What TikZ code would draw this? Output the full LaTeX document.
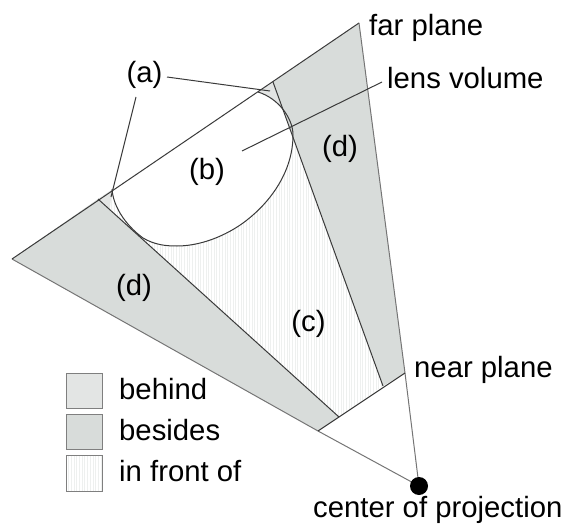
\documentclass[tikz,border=0pt]{standalone}
\usepackage{fontspec}
\setmainfont{Liberation Sans}
\definecolor{behindc}{HTML}{E3E5E4}
\definecolor{besidesc}{HTML}{D8DCDA}
\definecolor{linec}{HTML}{3A3A3A}
\definecolor{hatchc}{HTML}{EEF0EF}
\tikzset{
  lab/.style={inner sep=0pt,font=\fontsize{29.3}{31}\selectfont,text=black,anchor=base},
  labl/.style={lab,anchor=base west},
  edge/.style={draw=linec,line width=1pt},
  rim/.style={draw=linec!70,line width=1pt},
  swatch/.style={draw=linec!65,line width=1.4pt,minimum width=36pt,minimum height=35pt,inner sep=0pt,anchor=north west},
}
\newcommand{\lensfwd}{(112,189) .. controls (113,205) and (124,224) .. (143,238) .. controls (155,245) and (166,246) .. (177,246) .. controls (205,246) and (232,232) .. (247,220) .. controls (270,202) and (293,172) .. (293,135) .. controls (293,118) and (278,98) .. (258,92)}
\begin{document}
\begin{tikzpicture}[x=1pt,y=-1pt]
\useasboundingbox (0,0) rectangle (565,524);
\coordinate (apex) at (419,486);
\coordinate (farR) at (359,23);
\coordinate (farL) at (12,259);
\coordinate (nearR) at (405,373);
\coordinate (nearL) at (318,431);
\coordinate (innerLN) at (339,417);
\coordinate (innerLF) at (98,199);
\coordinate (innerRN) at (383,386);
\coordinate (innerRF) at (273,82);
\coordinate (lensL) at (112,189);
\coordinate (lensR) at (258,92);
% side regions
\fill[besidesc] (farL) -- (innerLF) -- (innerLN) -- (nearL) -- cycle;
\fill[besidesc] (innerRF) -- (farR) -- (nearR) -- (innerRN) -- cycle;
% front region with fine hatching
\begin{scope}
\clip (innerLF) -- (innerRF) -- (innerRN) -- (innerLN) -- cycle;
\foreach \hx in {90,92.7,...,390} \draw[hatchc,line width=.9pt] (\hx,60) -- (\hx,430);
\fill[behindc] (innerLF) -- (lensL) -- (100,300) -- cycle;
\fill[behindc] (innerRF) -- (lensR) -- (300,140) -- cycle;
\fill[white] \lensfwd -- cycle;
\end{scope}
% lens outline
\draw[edge] \lensfwd;
% frustum edges
\draw[rim] (apex) -- (nearL) -- (farL);
\draw[edge] (farL) -- (farR);
\draw[rim] (farR) -- (nearR) -- (apex);
\draw[edge] (nearL) -- (nearR);
\draw[edge] (innerLF) -- (innerLN);
\draw[edge] (innerRF) -- (innerRN);
\node[circle,fill=black,minimum size=18pt,inner sep=0pt] (cop) at (apex) {};
% labels
\node[lab] (a) at (144.5,83) {(a)};
\node[lab] (b) at (207,179) {(b)};
\node[lab] (c) at (308.5,331) {(c)};
\node[lab] (d1) at (340,157) {(d)};
\node[lab] (d2) at (134,295) {(d)};
\node[labl] (far) at (369,36) {far plane};
\node[labl] (lens) at (387,88.5) {lens volume};
\node[labl] (near) at (414,377) {near plane};
\node[labl] (center) at (313,517.3) {center of projection};
% leaders
\coordinate (a1) at (167,77);
\coordinate (a1e) at (270,91);
\coordinate (a2) at (136,97);
\coordinate (a2e) at (111,197);
\coordinate (lv1) at (382,82);
\coordinate (lv2) at (242,151);
\draw[edge] (a1) -- (a1e);
\draw[edge] (a2) -- (a2e);
\draw[edge] (lv1) -- (lv2);
% legend
\begin{scope}
\clip (66,455) rectangle (102,491);
\foreach \hx in {66,68.7,...,102} \draw[hatchc,line width=.9pt] (\hx,455) -- (\hx,491);
\end{scope}
\node[swatch,fill=behindc] (s1) at (66,373) {};
\node[swatch,fill=besidesc] (s2) at (66,414) {};
\node[swatch,minimum height=36pt] (s3) at (66,455) {};
\node[labl] (l1) at (119,399) {behind};
\node[labl] (l2) at (119,440) {besides};
\node[labl] (l3) at (119,481) {in front of};
\end{tikzpicture}
\end{document}
